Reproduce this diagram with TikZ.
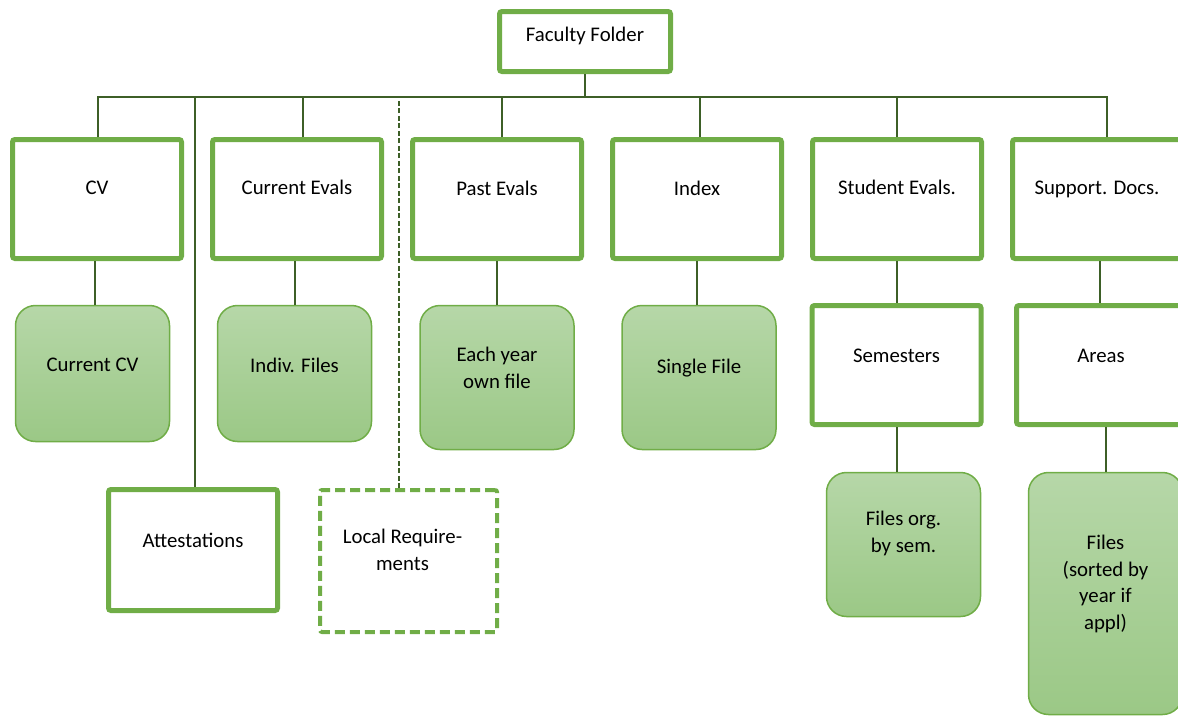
\documentclass[tikz,border=0pt]{standalone}
\usepackage{fontspec}
\setmainfont{Carlito}
\usetikzlibrary{positioning}
\definecolor{boxgreen}{HTML}{70AD47}
\definecolor{linkgreen}{HTML}{3D5F27}
\definecolor{leaftop}{HTML}{B6D7A8}
\definecolor{leafbot}{HTML}{9BC886}

\begin{document}
\begin{tikzpicture}[x=1pt,y=-1pt,node distance=26pt,font=\fontsize{20.8}{26.5}\selectfont,
folder/.style={draw=boxgreen,line width=5pt,rounded corners=2.5pt,fill=white,minimum width=169pt,minimum height=119pt,inner sep=0pt},
leaf/.style={draw=boxgreen,line width=1.5pt,rounded corners=20pt,top color=leaftop,bottom color=leafbot,minimum width=154pt,minimum height=136pt,inner sep=0pt},
maybe/.style={draw=boxgreen,line width=4pt,rounded corners=2pt,dash pattern=on 10pt off 5pt,fill=white,minimum width=177pt,minimum height=142pt,inner sep=0pt},
tag/.style={align=center,inner sep=0pt,yshift=#1},tag/.default=10pt,
link/.style={draw=linkgreen,line width=2pt}]
\useasboundingbox (0,0) rectangle (1178,715);
\node[folder,minimum width=171pt,minimum height=60pt,label={[tag=5.5pt,name=fft]center:Faculty Folder}] (ff) at (585,41.5) {};
\node[folder,label={[tag=11pt,name=cvt]center:CV}] (cv) at (97,199) {};
\node[folder,right=of cv,label={[tag=12pt,name=cet]center:Current Evals}] (ce) {};
\node[folder,right=of ce,label={[tag=11pt,name=pet]center:Past Evals}] (pe) {};
\node[folder,right=of pe,label={[tag=11pt,name=ixt]center:Index}] (ix) {};
\node[folder,right=of ix,label={[tag=12pt,name=set]center:Student Evals.}] (se) {};
\node[folder,right=of se,label={[tag=10pt,name=sdt]center:Support. Docs.}] (sd) {};
\node[leaf,label={[tag=8.5pt,name=ccvt]center:Current CV}] (ccv) at (92.5,373.5) {};
\node[leaf,label={[tag=8.5pt,name=indt]center:Indiv. Files}] (ind) at (294.5,373.5) {};
\node[leaf,minimum height=144pt,label={[tag=9.5pt,name=eyrt]center:Each year\\own file}] (eyr) at (497,377.5) {};
\node[leaf,minimum height=144pt,label={[tag=9.5pt,name=sglt]center:Single File}] (sgl) at (699,377.5) {};
\node[folder,label={[tag=9pt,name=semt]center:Semesters}] (sem) at (896.5,365) {};
\node[folder,label={[tag=9pt,name=art]center:Areas}] (ar) at (1101,365) {};
\node[leaf,minimum height=144pt,label={[tag=11pt,name=fost]center:Files org.\\by sem.}] (fos) at (903.5,544.5) {};
\node[leaf,minimum height=242pt,label={[tag=9.5pt,name=fsyt]center:Files\\(sorted by\\year if\\appl)}] (fsy) at (1105.5,593.5) {};
\node[folder,minimum height=121pt,label={[tag=10pt,name=attt]center:Attestations}] (att) at (193,550) {};
\node[maybe,label={[tag=11pt,xshift=-6pt,name=loct]center:Local Require-\\ments}] (loc) at (408.5,561) {};
\coordinate (bus) at (585,97);
\draw[link] (ff.south) -- (ff.south |- bus);
\foreach \b/\s in {cv/1,ce/6,pe/5,ix/3,se/0,sd/10} \draw[link] ([xshift=\s pt]\b.north) |- (bus);
\draw[link] ([xshift=2pt]att.north) |- (bus);
\draw[link,dash pattern=on 5pt off 2.5pt] ([xshift=-10pt]loc.north) |- (bus);
\draw[link] ([xshift=-2pt]cv.south) -- ([xshift=-2pt]cv.south |- ccv.north);
\draw[link] ([xshift=-2pt]ce.south) -- ([xshift=-2pt]ce.south |- ind.north);
\draw[link] (pe.south) -- (pe.south |- eyr.north);
\draw[link] (ix.south) -- (ix.south |- sgl.north);
\draw[link] (se.south) -- (se.south |- sem.north);
\draw[link] ([xshift=3pt]sd.south) -- ([xshift=3pt]sd.south |- ar.north);
\draw[link] (sem.south) -- (sem.south |- fos.north);
\draw[link] (fsy.north) -- (fsy.north |- ar.south);
\end{tikzpicture}
\end{document}
